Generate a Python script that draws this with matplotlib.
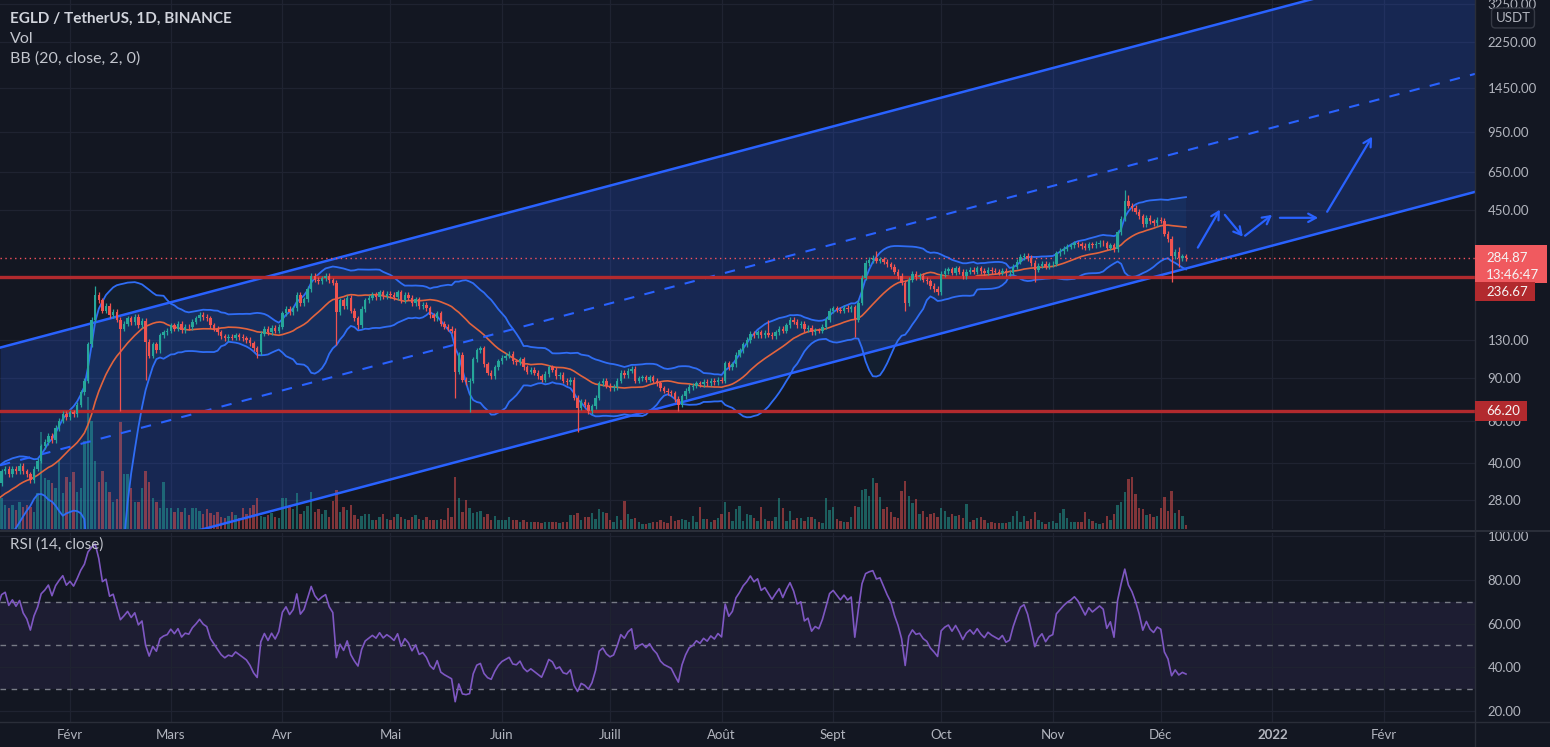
# -*- coding: utf-8 -*-
"""
EGLD / TetherUS, 1D (Binance) - candles, volume, BB(20, 2) and RSI(14)
with the hand drawn channel / levels / arrows of the TradingView idea.
"""

import numpy as np
import pandas as pd
import matplotlib
matplotlib.use("Agg")
import matplotlib.pyplot as plt
import matplotlib.dates as mdates
import matplotlib.ticker as mticker
from matplotlib.patches import Rectangle


# ---- daily closes (USDT), 2020-12-24 .. 2021-12-08 ----
first_day = '2020-12-24'
close_dec20 = [22, 23, 24, 23, 24, 23, 24, 25]
close_jan = [26, 25, 27, 28, 31, 34, 37, 36, 37, 35, 31, 33,
             37, 38, 36, 38, 37, 39, 37, 36, 34, 38,
             41, 47, 49, 52, 50, 56, 60, 64, 62]
close_feb = [65, 64, 70, 79, 88, 125, 158, 200, 190, 172,
             180, 165, 170, 158, 145, 152, 160, 154, 162, 150,
             156, 128, 112, 125, 118, 136, 140, 142]
close_mar = [150, 145, 152, 143, 148, 147, 155, 160, 166, 162,
             160, 150, 145, 140, 135, 132, 134, 133, 136, 134,
             132, 130, 126, 120, 116, 138, 145, 140, 146, 142, 148]
close_apr = [168, 175, 170, 176, 200, 185, 192, 212, 240, 232,
             228, 235, 240, 230, 225, 170, 190, 180, 195, 172,
             160, 150, 175, 190, 195, 200, 196, 205, 198, 203]
close_may = [200, 196, 205, 190, 200, 195, 185, 192, 180, 182,
             176, 165, 160, 168, 152, 148, 145, 142, 96, 113,
             89, 87, 88, 108, 118, 120, 103, 95, 92, 100, 106]
close_jun = [110, 112, 114, 106, 105, 108, 100, 96, 98, 95,
             92, 89, 94, 100, 98, 92, 93, 88, 87, 89,
             75, 68, 72, 70, 66, 69, 75, 86, 88, 84]
close_jul = [82, 83, 88, 95, 93, 97, 99, 88, 90, 91,
             89, 91, 88, 86, 82, 80, 79, 78, 74, 70,
             76, 80, 83, 84, 86, 85, 87, 86, 88, 87, 89]
close_aug = [88, 104, 100, 103, 113, 118, 125, 130, 138, 136,
             140, 136, 139, 137, 135, 140, 145, 142, 150, 158,
             155, 150, 152, 144, 146, 140, 143, 142, 148, 158, 172]
close_sep = [176, 174, 172, 177, 175, 178, 158, 186, 236, 272,
             280, 285, 278, 282, 275, 268, 262, 250, 240, 225,
             185, 232, 245, 238, 240, 232, 228, 218, 212, 205]
close_oct = [245, 252, 256, 248, 258, 250, 240, 250, 255, 250,
             258, 252, 248, 255, 252, 250, 248, 252, 246, 248,
             262, 275, 288, 292, 285, 272, 255, 265, 270, 262, 268]
close_nov = [270, 298, 305, 312, 318, 322, 328, 325, 320, 315,
             325, 322, 326, 330, 328, 315, 322, 310, 365, 415,
             492, 470, 460, 445, 425, 395, 420, 405, 398, 412]
close_dec = [408, 360, 342, 290, 302, 285, 290, 284.87]

# ---- daily volume (relative units) ----
vol_dec20 = [15, 14, 16, 18, 20, 17, 15, 18]
vol_jan = [20, 18, 22, 25, 28, 30, 35, 28, 26, 24, 30, 22,
           31, 24, 21, 24, 19, 27, 22, 24, 22, 17,
           36, 96, 51, 49, 46, 41, 67, 36, 52]
vol_feb = [47, 56, 37, 41, 87, 131, 107, 67, 47, 57,
           47, 37, 27, 30, 106, 54, 54, 41, 27, 27,
           41, 57, 47, 31, 27, 21, 47, 21]
vol_mar = [21, 17, 21, 17, 21, 14, 21, 21, 18, 15,
           20, 16, 14, 17, 12, 11, 13, 17, 14, 11,
           21, 15, 21, 24, 31, 13, 12, 14, 16, 12, 11]
vol_apr = [31, 31, 22, 20, 36, 15, 18, 23, 37, 17,
           20, 15, 19, 12, 28, 39, 17, 22, 19, 24,
           14, 10, 13, 15, 15, 9, 9, 12, 15, 10]
vol_may = [9, 12, 15, 12, 10, 9, 12, 14, 10, 9,
           12, 9, 9, 9, 10, 9, 21, 12, 52, 31,
           17, 29, 21, 16, 17, 18, 12, 15, 9, 13, 9]
vol_jun = [9, 9, 12, 9, 9, 7, 9, 7, 7, 7,
           7, 6, 7, 7, 7, 7, 6, 7, 7, 14,
           14, 16, 9, 12, 12, 16, 10, 20, 17, 16]
vol_jul = [9, 7, 13, 9, 28, 15, 10, 11, 7, 5,
           5, 6, 7, 7, 9, 7, 6, 13, 8, 9,
           10, 9, 7, 13, 7, 22, 10, 10, 7, 9, 11]
vol_aug = [15, 27, 17, 8, 20, 23, 8, 15, 14, 11,
           8, 22, 10, 8, 8, 12, 31, 21, 8, 18,
           9, 11, 11, 8, 12, 12, 10, 7, 6, 31, 19]
vol_sep = [22, 10, 8, 7, 7, 12, 23, 22, 39, 40,
           33, 51, 46, 32, 20, 22, 17, 12, 11, 38,
           48, 33, 26, 30, 15, 18, 12, 15, 16, 12]
vol_oct = [21, 18, 12, 15, 13, 14, 11, 25, 7, 9,
           11, 12, 9, 6, 7, 6, 6, 6, 6, 7,
           13, 18, 7, 13, 8, 10, 17, 9, 7, 5, 7]
vol_nov = [8, 6, 16, 20, 11, 7, 7, 7, 7, 17,
           10, 8, 6, 5, 6, 13, 9, 15, 24, 27,
           37, 50, 52, 35, 21, 20, 14, 15, 12, 13]
vol_dec = [21, 32, 18, 38, 16, 19, 13, 4]

# long wicks (other days: short wick)
wick_high = {'2021-02-08': 218, '2021-04-10': 248, '2021-08-14': 158,
             '2021-09-13': 305, '2021-11-21': 546, '2021-11-22': 520,
             '2021-12-06': 318}
wick_low = {'2021-02-15': 66, '2021-02-22': 89, '2021-03-25': 110,
            '2021-04-16': 124, '2021-04-22': 145, '2021-05-19': 75,
            '2021-05-23': 65.5, '2021-06-22': 54, '2021-07-20': 66,
            '2021-09-07': 134, '2021-09-21': 172, '2021-10-27': 226,
            '2021-12-04': 227, '2021-12-06': 262}
WICK = 0.025

# drawings: parallel channel, horizontal levels, brush arrows
channel_dates = ['2021-01-12 13:26', '2022-02-26 06:43']
channel_upper = [120.9, 5141]
channel_lower = [12.7, 537]
levels = [236.67, 66.20]
arrow_from_dates = ['2021-12-11 07:00', '2021-12-18 19:00', '2021-12-24 10:00',
                    '2022-01-03 02:00', '2022-01-16 05:00']
arrow_to_dates = ['2021-12-17 10:00', '2021-12-23 19:00', '2021-12-31 22:00',
                  '2022-01-13 17:00', '2022-01-28 17:00']
arrow_from_px = [315, 431, 353, 419, 444]
arrow_to_px = [453, 350, 431, 419, 911]

# axes
price_ticks = [28, 40, 60, 90, 130, 450, 650, 950, 1450, 2250, 3250]
rsi_ticks = [20, 40, 60, 80, 100]
month_ticks = ['2021-02-01', '2021-03-01', '2021-04-01', '2021-05-01', '2021-06-01',
               '2021-07-01', '2021-08-01', '2021-09-01', '2021-10-01', '2021-11-01',
               '2021-12-01', '2022-01-01', '2022-02-01']
month_labels = ['Févr', 'Mars', 'Avr', 'Mai', 'Juin', 'Juill', 'Août', 'Sept',
                'Oct', 'Nov', 'Déc', '2022', 'Févr']


BG = '#131722'
GRID = '#1f2331'
SEP = '#2a2e39'
TXT = '#b2b5be'
UP = '#26a69a'
DOWN = '#ef5350'
BLUE = '#2962ff'
LEVEL_RED = '#b22a2e'
W, H = 1550, 747


def frac_rect(x0, y0, x1, y1):
    # pixel box (top-left origin) -> figure fraction rect
    return [x0 / W, 1 - y1 / H, (x1 - x0) / W, (y1 - y0) / H]


def main():
    plt.rcParams['font.family'] = ['Lato', 'DejaVu Sans']

    close = np.array(close_dec20 + close_jan + close_feb + close_mar + close_apr +
                     close_may + close_jun + close_jul + close_aug + close_sep +
                     close_oct + close_nov + close_dec, dtype=float)
    volume = np.array(vol_dec20 + vol_jan + vol_feb + vol_mar + vol_apr + vol_may +
                      vol_jun + vol_jul + vol_aug + vol_sep + vol_oct + vol_nov +
                      vol_dec, dtype=float)
    dates = pd.date_range(first_day, periods=len(close), freq='D')
    x = mdates.date2num(dates)

    opn = np.r_[close[0], close[:-1]]
    high = np.maximum(opn, close) * (1 + WICK)
    low = np.minimum(opn, close) * (1 - WICK)
    for d, v in wick_high.items():
        high[dates.get_loc(pd.Timestamp(d))] = v
    for d, v in wick_low.items():
        low[dates.get_loc(pd.Timestamp(d))] = v
    up = close >= opn
    colors = np.where(up, UP, DOWN)

    # indicators
    s = pd.Series(close)
    basis = s.rolling(20).mean()
    dev = s.rolling(20).std(ddof=0)
    bb_up = basis + 2 * dev
    bb_lo = basis - 2 * dev
    delta = s.diff()
    avg_gain = delta.clip(lower=0).ewm(alpha=1 / 14, adjust=False).mean()
    avg_loss = (-delta).clip(lower=0).ewm(alpha=1 / 14, adjust=False).mean()
    rsi = 100 - 100 / (1 + avg_gain / avg_loss)

    fig = plt.figure(figsize=(W / 100, H / 100), dpi=100, facecolor=BG)
    ax = fig.add_axes(frac_rect(0, 0, 1475, 529))
    rax = fig.add_axes(frac_rect(0, 533, 1475, 722), sharex=ax)
    for a in (ax, rax):
        a.set_facecolor(BG)
        for sp in a.spines.values():
            sp.set_visible(False)
        a.set_axisbelow(True)
        a.grid(True, color=GRID, lw=0.9)

    # ---- price pane ----
    ax.set_yscale('log')
    feb1 = mdates.date2num(pd.Timestamp('2021-02-01'))
    ax.set_xlim(feb1 - 19.44, feb1 + 390.28)
    ax.set_ylim(21.3, 3371)

    cx = mdates.date2num(pd.to_datetime(channel_dates))
    c_up = np.array(channel_upper)
    c_lo = np.array(channel_lower)
    c_mid = np.sqrt(c_up * c_lo)
    ax.fill_between(cx, c_lo, c_up, color=BLUE, alpha=0.22, lw=0, zorder=0.6)
    ax.plot(cx, c_up, color=BLUE, lw=1.8, zorder=2.2)
    ax.plot(cx, c_lo, color=BLUE, lw=1.8, zorder=2.2)
    ax.plot(cx, c_mid, color=BLUE, lw=1.5, ls=(0, (5, 5)), zorder=2.2)

    # volume overlay at the bottom of the price pane
    vol_tr = matplotlib.transforms.blended_transform_factory(ax.transData, ax.transAxes)
    ax.bar(x, volume / (volume.max() * 4.0), bottom=0, width=0.68,
           color=np.where(up, '#26a69a', '#ef5350'), alpha=0.5, lw=0,
           transform=vol_tr, zorder=1)

    ax.fill_between(x, bb_lo, bb_up, color='#2196f3', alpha=0.07, lw=0, zorder=1.5)
    ax.plot(x, bb_up, color='#2f6df5', lw=1.3, zorder=2)
    ax.plot(x, bb_lo, color='#2f6df5', lw=1.3, zorder=2)
    ax.plot(x, basis, color='#e2643e', lw=1.2, zorder=2)

    for lv in levels:
        ax.axhline(lv, color=LEVEL_RED, lw=2.4, zorder=2.5)
    ax.axhline(close[-1], color='#f7525f', lw=1.0, ls=(0, (1, 2.5)), zorder=2.5)

    ax.vlines(x, low, high, colors=colors, lw=0.9, zorder=3)
    body = np.maximum(np.abs(close - opn), close * 0.006)
    ax.bar(x, body, bottom=np.minimum(opn, close), width=0.68, color=colors,
           lw=0, zorder=3.1)

    for d0, d1, p0, p1 in zip(arrow_from_dates, arrow_to_dates, arrow_from_px, arrow_to_px):
        ax.annotate('', xy=(mdates.date2num(pd.Timestamp(d1)), p1),
                    xytext=(mdates.date2num(pd.Timestamp(d0)), p0),
                    arrowprops=dict(arrowstyle='->,head_length=0.55,head_width=0.3',
                                    color=BLUE, lw=1.6, shrinkA=0, shrinkB=0),
                    zorder=4)

    ax.yaxis.tick_right()
    ax.yaxis.set_major_locator(mticker.FixedLocator(price_ticks))
    ax.yaxis.set_minor_locator(mticker.NullLocator())
    ax.yaxis.set_major_formatter(mticker.FuncFormatter(lambda v, p: '%.2f' % v))
    ax.tick_params(axis='y', length=0, pad=9, labelcolor=TXT, labelsize=9.5)
    ax.tick_params(axis='x', length=0, labelbottom=False)

    # ---- RSI pane ----
    rax.axhspan(30, 70, color='#7e57c2', alpha=0.1, lw=0, zorder=0.5)
    for lv in (70, 50, 30):
        rax.axhline(lv, color='#787b86', lw=1.0, ls=(0, (4, 4)), zorder=1)
    rax.plot(x, rsi, color='#7e57c2', lw=1.2, zorder=2)
    rax.set_ylim(15.0, 101.4)
    rax.yaxis.tick_right()
    rax.yaxis.set_major_locator(mticker.FixedLocator(rsi_ticks))
    rax.yaxis.set_major_formatter(mticker.FuncFormatter(lambda v, p: '%.2f' % v))
    rax.tick_params(axis='y', length=0, pad=9, labelcolor=TXT, labelsize=9.5)

    rax.xaxis.set_major_locator(mticker.FixedLocator(
        mdates.date2num(pd.to_datetime(month_ticks))))
    rax.xaxis.set_major_formatter(mticker.FixedFormatter(month_labels))
    rax.tick_params(axis='x', length=0, pad=5, labelcolor=TXT, labelsize=9.5)
    for lab in rax.get_xticklabels():
        if lab.get_text() == '2022':
            lab.set_fontweight('bold')

    # pane borders
    fig.add_artist(plt.Line2D([1475 / W, 1475 / W], [0, 1], color=SEP,
                              lw=1, transform=fig.transFigure))
    fig.add_artist(plt.Line2D([0, 1], [1 - 531 / H] * 2, color=SEP, lw=1.5,
                              transform=fig.transFigure))
    fig.add_artist(plt.Line2D([0, 1], [1 - 722 / H] * 2, color=SEP, lw=1,
                              transform=fig.transFigure))

    # ---- price tags on the scale ----
    def y_px(p):
        return H - ax.transData.transform((ax.get_xlim()[0], p))[1]

    def tag(top, bottom, right, fc, texts):
        fig.add_artist(Rectangle((1475 / W, 1 - bottom / H), (right - 1475) / W,
                                 (bottom - top) / H, transform=fig.transFigure,
                                 fc=fc, ec='none', zorder=5))
        for ty, t in texts:
            fig.text(1486 / W, 1 - ty / H, t, color='#f5f5f5', fontsize=9.5,
                     va='center', ha='left', zorder=6)

    yl = y_px(close[-1])
    tag(yl - 13.5, yl + 24.5, 1547, '#f05a5f',
        [(yl, '%.2f' % close[-1]), (yl + 17, '13:46:47')])
    y1 = y_px(levels[0])
    tag(y1 + 5, y1 + 24, 1535, LEVEL_RED, [(y1 + 14.5, '%.2f' % levels[0])])
    y2 = y_px(levels[1])
    tag(y2 - 10, y2 + 10, 1527, LEVEL_RED, [(y2, '%.2f' % levels[1])])

    fig.text(1513 / W, 1 - 18 / H, 'USDT', color=TXT, fontsize=9.5, ha='center',
             va='center', zorder=6,
             bbox=dict(boxstyle='round,pad=0.3', fc=BG, ec='#363a45', lw=1))

    # ---- legends ----
    fig.text(10 / W, 1 - 19 / H, 'EGLD / TetherUS, 1D, BINANCE', color='#d1d4dc',
             fontsize=11, fontweight='bold', va='center')
    fig.text(10 / W, 1 - 39 / H, 'Vol', color='#c3c6ce', fontsize=11.5, va='center')
    fig.text(10 / W, 1 - 59 / H, 'BB (20, close, 2, 0)', color='#c3c6ce',
             fontsize=11.5, va='center')
    fig.text(10 / W, 1 - 545 / H, 'RSI (14, close)', color='#c3c6ce',
             fontsize=11, va='center')

    fig.savefig('out.png', dpi=100, facecolor=BG)


if __name__ == "__main__":
    main()
